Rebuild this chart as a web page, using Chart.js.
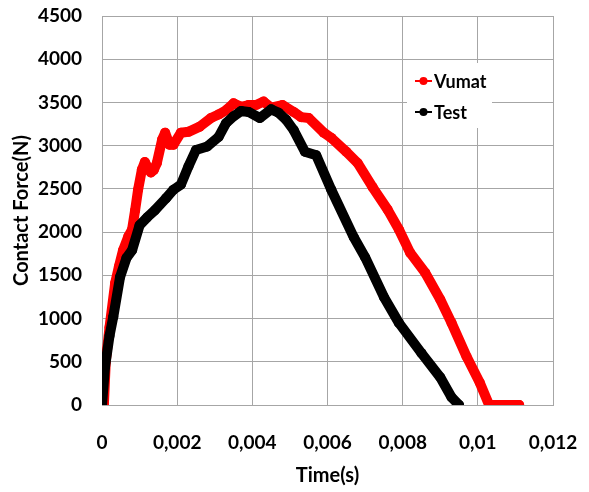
<!DOCTYPE html>
<html>
<head>
<meta charset="utf-8">
<script src="https://cdn.jsdelivr.net/npm/chart.js@4/dist/chart.umd.min.js"></script>
<style>
  html, body { margin: 0; padding: 0; background: #fff; }
  #wrap { width: 589px; height: 492px; position: relative; }
</style>
</head>
<body>
<div id="wrap"><canvas id="chart"></canvas></div>
<script>
// values
const vumatTime = [0, 0.00005, 0.0001, 0.0002, 0.00035, 0.00045, 0.00056, 0.0007, 0.0008, 0.00088, 0.00096,
  0.00106, 0.00114, 0.0012, 0.0013, 0.00138, 0.00146, 0.0016, 0.00168, 0.0018, 0.0019, 0.0021, 0.0023,
  0.0026, 0.0029, 0.0031, 0.0033, 0.0035, 0.0037, 0.0039, 0.0041, 0.0043, 0.0045, 0.0048, 0.0051, 0.0053,
  0.0055, 0.0059, 0.0061, 0.0065, 0.0068, 0.0072, 0.0076, 0.0079, 0.0082, 0.0086, 0.009, 0.0093, 0.0097,
  0.01005, 0.0103, 0.0107, 0.0111];
const vumatForce = [0, 0, 500, 900, 1410, 1600, 1790, 1950, 2030, 2250, 2490,
  2720, 2810, 2760, 2690, 2720, 2800, 3070, 3150, 3010, 3010, 3150, 3160,
  3220, 3320, 3360, 3410, 3490, 3450, 3470, 3470, 3510, 3440, 3470, 3390, 3330,
  3320, 3150, 3090, 2930, 2800, 2520, 2260, 2030, 1760, 1530, 1220, 950, 560,
  260, 0, 0, 0];

const testTime = [0, 0.00008, 0.0002, 0.0003, 0.00048, 0.00065, 0.0008, 0.001, 0.0012, 0.0014, 0.0017,
  0.0019, 0.0021, 0.0023, 0.0025, 0.0028, 0.0031, 0.0033, 0.0035, 0.0037, 0.0039, 0.0042, 0.0045,
  0.0047, 0.0049, 0.0051, 0.0054, 0.0057, 0.0061, 0.0067, 0.007, 0.0075, 0.0079, 0.0085, 0.009,
  0.0093, 0.0095];
const testForce = [0, 440, 800, 1020, 1480, 1700, 1790, 2080, 2170, 2250, 2390,
  2490, 2550, 2760, 2950, 2990, 3100, 3260, 3340, 3400, 3390, 3320, 3420,
  3380, 3300, 3180, 2930, 2890, 2490, 1940, 1710, 1250, 950, 600, 320,
  90, 0];

const xTickLabels = ['0', '0,002', '0,004', '0,006', '0,008', '0,01', '0,012'];
const seriesNames = ['Vumat', 'Test'];
const seriesColors = ['#ff0000', '#000000'];

const FONT = 'Lato, "Open Sans", sans-serif';

function toPoints(xs, ys) {
  return xs.map((x, i) => ({ x: x, y: ys[i] }));
}

// white legend box drawn inside the plot, like the original
const innerLegend = {
  id: 'innerLegend',
  beforeDatasetsDraw(chart) {
    const ctx = chart.ctx;
    ctx.save();
    ctx.fillStyle = '#ffffff';
    ctx.fillRect(407, 63, 85, 65);
    seriesNames.forEach((name, i) => {
      const y = 81 + i * 31;
      ctx.strokeStyle = seriesColors[i];
      ctx.lineWidth = 2;
      ctx.beginPath();
      ctx.moveTo(415, y);
      ctx.lineTo(432, y);
      ctx.stroke();
      ctx.fillStyle = seriesColors[i];
      ctx.beginPath();
      ctx.arc(423.5, y, 4, 0, Math.PI * 2);
      ctx.fill();
      ctx.fillStyle = '#000';
      ctx.font = 'bold 18px ' + FONT;
      ctx.textAlign = 'left';
      ctx.textBaseline = 'middle';
      ctx.fillText(name, 434, y + 1);
    });
    ctx.restore();
  }
};

const commonLine = {
  showLine: true,
  borderWidth: 10,
  borderJoinStyle: 'round',
  borderCapStyle: 'round',
  pointRadius: 5,
  pointBorderWidth: 0,
  tension: 0
};

new Chart(document.getElementById('chart'), {
  type: 'scatter',
  data: {
    datasets: [
      Object.assign({ label: seriesNames[1], data: toPoints(testTime, testForce),
        borderColor: seriesColors[1], backgroundColor: seriesColors[1] }, commonLine),
      Object.assign({ label: seriesNames[0], data: toPoints(vumatTime, vumatForce),
        borderColor: seriesColors[0], backgroundColor: seriesColors[0] }, commonLine)
    ]
  },
  options: {
    responsive: true,
    maintainAspectRatio: false,
    animation: false,
    layout: { padding: { top: 16, right: 36, left: 0, bottom: 0 } },
    plugins: { legend: { display: false }, tooltip: { enabled: false } },
    scales: {
      x: {
        type: 'linear', min: 0, max: 0.012,
        afterFit: (s) => { s.height = 87; s.paddingLeft = 0; s.paddingRight = 0; },
        afterBuildTicks: (s) => { s.ticks = xTickLabels.map((l, i) => ({ value: i * 0.002 })); },
        grid: { color: '#a6a6a6', lineWidth: 1, drawTicks: false },
        border: { color: '#a6a6a6' },
        ticks: {
          padding: 26, color: '#000', maxRotation: 0, autoSkip: false,
          font: { family: FONT, size: 19, weight: 'bold' },
          callback: (v, i) => xTickLabels[i]
        },
        title: { display: true, text: 'Time(s)', color: '#000', padding: { top: 3 },
          font: { family: FONT, size: 20, weight: 'bold' } }
      },
      y: {
        min: 0, max: 4500,
        afterFit: (s) => { s.width = 102; s.paddingTop = 0; s.paddingBottom = 0; },
        grid: { color: '#a6a6a6', lineWidth: 1, drawTicks: false },
        border: { color: '#a6a6a6' },
        ticks: {
          stepSize: 500, padding: 20, color: '#000',
          font: { family: FONT, size: 19, weight: 'bold' },
          callback: (v) => String(v)
        },
        title: { display: true, text: 'Contact Force(N)', color: '#000', padding: { top: 10, bottom: 0 },
          font: { family: FONT, size: 20, weight: 'bold' } }
      }
    }
  },
  plugins: [innerLegend]
});
</script>
</body>
</html>
